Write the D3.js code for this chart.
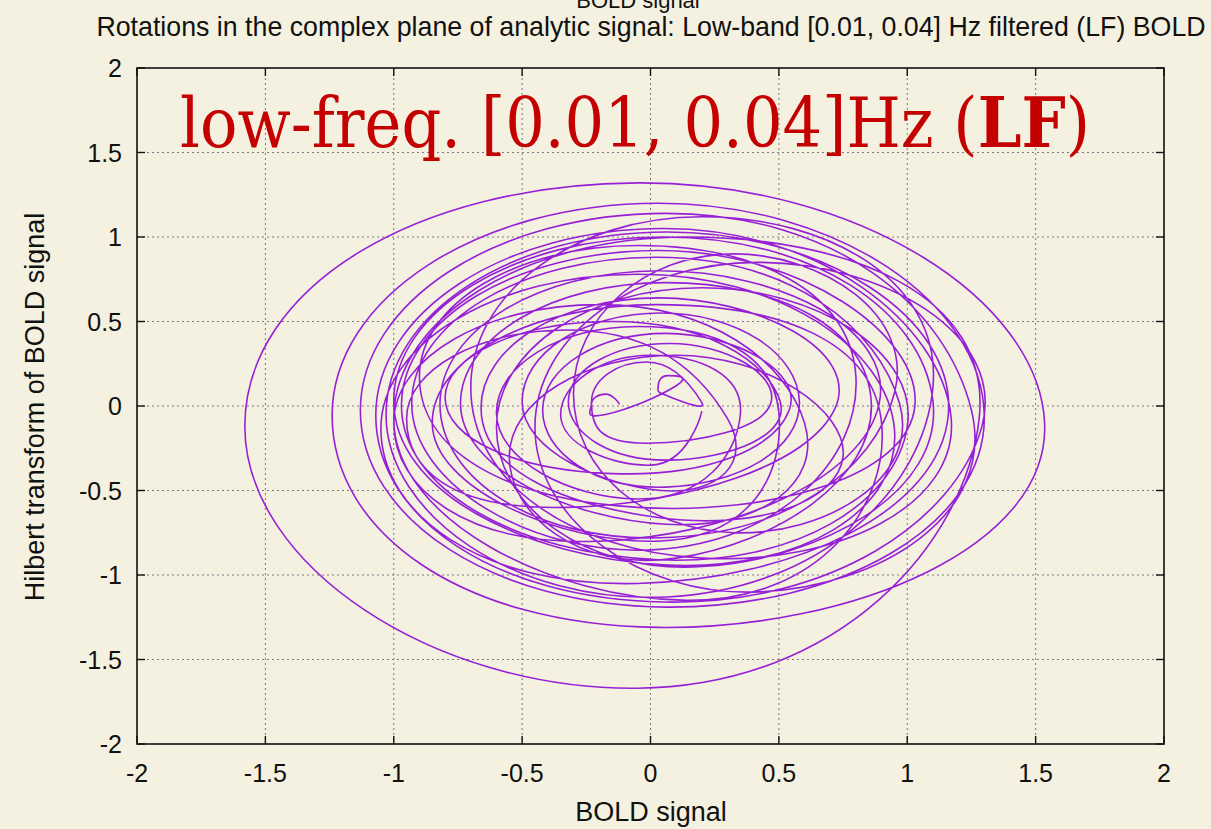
<!DOCTYPE html>
<html>
<head>
<meta charset="utf-8">
<script src="https://cdn.jsdelivr.net/npm/d3@7"></script>
<style>
  html, body { margin: 0; padding: 0; background: #f5f1e0; }
  svg { display: block; }
</style>
</head>
<body>
<svg id="chart" width="1211" height="829"></svg>
<script>
// ---- data ----
const xTicks = [-2, -1.5, -1, -0.5, 0, 0.5, 1, 1.5, 2];
const yTicks = [-2, -1.5, -1, -0.5, 0, 0.5, 1, 1.5, 2];
const xTickLabels = ["-2", "-1.5", "-1", "-0.5", "0", "0.5", "1", "1.5", "2"];
const yTickLabels = ["-2", "-1.5", "-1", "-0.5", "0", "0.5", "1", "1.5", "2"];

// trajectory of the analytic signal: BOLD (real part) vs Hilbert transform (imag part)
const boldX = [
  -0.12, -0.175, -0.23, -0.175,
  0.10, 0.065, 0.03, 0.065,
  0.20, -0.015, -0.23, -0.015,
  0.47, 0.075, -0.32, 0.075,
  0.50, -0.15, -0.80, -0.15,
  0.54, 0.06, -0.42, 0.06,
  0.58, 0.04, -0.50, 0.04,
  0.30, -0.325, -0.95, -0.325,
  0.72, 0.03, -0.66, 0.03,
  0.75, 0.10, -0.55, 0.10,
  0.86, 0.06, -0.74, 0.06,
  0.60, -0.20, -1.00, -0.20,
  0.89, 0.035, -0.82, 0.035,
  0.95, 0.325, -0.30, 0.325,
  0.97, 0.02, -0.93, 0.02,
  0.80, -0.05, -0.90, -0.05,
  1.03, 0.03, -0.97, 0.03,
  1.00, 0.20, -0.60, 0.20,
  1.10, 0.05, -1.00, 0.05,
  0.95, -0.05, -1.05, -0.05,
  1.16, 0.065, -1.03, 0.065,
  1.10, 0.20, -0.70, 0.20,
  1.17, 0.05, -1.07, 0.05,
  1.29, 0.42, -0.45, 0.42,
  1.25, 0.06, -1.13, 0.06,
  1.30, 0.03, -1.24, 0.03,
  1.535, -0.05, -1.58, -0.05,
  1.28, 0.14, -1.00, 0.14,
  0.90, 0.025, -0.85, 0.025,
  0.50, -0.05, -0.60, -0.05,
  0.35, 0.00, -0.35, 0.00,
  0.20
];
const hilbertY = [
  0.01, 0.07, 0.01, -0.05,
  0.12, 0.18, 0.12, 0.06,
  0.02, 0.26, 0.02, -0.22,
  0.025, 0.37, 0.025, -0.32,
  0.05, 0.50, 0.05, -0.40,
  -0.025, 0.43, -0.025, -0.48,
  0.025, 0.55, 0.025, -0.50,
  -0.075, 0.45, -0.075, -0.60,
  -0.01, 0.64, -0.01, -0.66,
  -0.30, 0.30, -0.30, -0.90,
  0.015, 0.73, 0.015, -0.70,
  -0.10, 0.60, -0.10, -0.80,
  0.01, 0.80, 0.01, -0.78,
  0.075, 0.90, 0.075, -0.75,
  0.015, 0.88, 0.015, -0.85,
  0.175, 0.95, 0.175, -0.60,
  0.005, 0.92, 0.005, -0.91,
  -0.125, 0.70, -0.125, -0.95,
  0.03, 1.00, 0.03, -0.94,
  -0.135, 0.78, -0.135, -1.05,
  -0.05, 1.03, -0.05, -1.13,
  0.11, 1.12, 0.11, -0.90,
  -0.055, 1.05, -0.055, -1.16,
  -0.125, 0.85, -0.125, -1.10,
  -0.025, 1.14, -0.025, -1.19,
  -0.055, 1.20, -0.055, -1.31,
  -0.10, 1.32, -0.12, -1.67,
  -0.075, 1.00, -0.075, -1.15,
  -0.10, 0.60, -0.10, -0.80,
  -0.04, 0.47, -0.04, -0.55,
  -0.05, 0.30, -0.05, -0.35,
  -0.03
];

const titleTop = "BOLD signal";
const titleText = "Rotations in the complex plane of analytic signal: Low-band [0.01, 0.04] Hz filtered (LF) BOLD";
const xLabel = "BOLD signal";
const yLabel = "Hilbert transform of BOLD signal";
const annotation = ["low-freq. [0.01, 0.04]Hz (", "LF", ")"];

// ---- drawing ----
const svg = d3.select("#chart");
const W = 1211, H = 829;
svg.append("rect").attr("width", W).attr("height", H).attr("fill", "#f5f1e0");

const pLeft = 137, pRight = 1164, pTop = 68, pBottom = 744;
const x = d3.scaleLinear().domain([-2, 2]).range([pLeft, pRight]);
const y = d3.scaleLinear().domain([-2, 2]).range([pBottom, pTop]);

const sans = "'Liberation Sans', Arial, Helvetica, sans-serif";

// grid
const grid = svg.append("g");
xTicks.slice(1, -1).forEach(v => {
  grid.append("line").attr("x1", x(v)).attr("x2", x(v)).attr("y1", pTop).attr("y2", pBottom)
    .attr("stroke", "#7d7884").attr("stroke-width", 1).attr("stroke-dasharray", "2,3");
});
yTicks.slice(1, -1).forEach(v => {
  grid.append("line").attr("y1", y(v)).attr("y2", y(v)).attr("x1", pLeft).attr("x2", pRight)
    .attr("stroke", "#7d7884").attr("stroke-width", 1).attr("stroke-dasharray", "2,3");
});

// annotation
const ann = svg.append("text")
  .attr("x", 0).attr("y", 0)
  .attr("font-family", "'DejaVu Serif', 'Liberation Serif', serif")
  .attr("font-size", 70)
  .attr("fill", "#c40000");
ann.append("tspan").text(annotation[0]);
ann.append("tspan").attr("font-weight", "bold").text(annotation[1]);
ann.append("tspan").text(annotation[2]);
{
  const w = ann.node().getComputedTextLength();
  ann.attr("transform", `translate(180,147) scale(${910 / w},1)`);
}

// trajectory
const pts = boldX.map((v, i) => [v, hilbertY[i]]);
const line = d3.line()
  .x(d => x(d[0])).y(d => y(d[1]))
  .curve(d3.curveCardinal.tension(-0.657));
svg.append("path")
  .attr("d", line(pts))
  .attr("fill", "none")
  .attr("stroke", "#9620d6")
  .attr("stroke-width", 1.6)
  .attr("stroke-linejoin", "round");

// frame
svg.append("rect").attr("x", pLeft).attr("y", pTop)
  .attr("width", pRight - pLeft).attr("height", pBottom - pTop)
  .attr("fill", "none").attr("stroke", "#111").attr("stroke-width", 1.6);

// ticks (inward, mirrored)
const tk = 8;
const ticks = svg.append("g").attr("stroke", "#111").attr("stroke-width", 1.4);
xTicks.forEach(v => {
  ticks.append("line").attr("x1", x(v)).attr("x2", x(v)).attr("y1", pBottom).attr("y2", pBottom - tk);
  ticks.append("line").attr("x1", x(v)).attr("x2", x(v)).attr("y1", pTop).attr("y2", pTop + tk);
});
yTicks.forEach(v => {
  ticks.append("line").attr("y1", y(v)).attr("y2", y(v)).attr("x1", pLeft).attr("x2", pLeft + tk);
  ticks.append("line").attr("y1", y(v)).attr("y2", y(v)).attr("x1", pRight).attr("x2", pRight - tk);
});

// tick labels
xTicks.forEach((v, i) => {
  svg.append("text").attr("x", x(v)).attr("y", 782)
    .attr("text-anchor", "middle").attr("font-family", sans).attr("font-size", 25)
    .attr("fill", "#111").text(xTickLabels[i]);
});
yTicks.forEach((v, i) => {
  svg.append("text").attr("x", 122).attr("y", y(v) + 9)
    .attr("text-anchor", "end").attr("font-family", sans).attr("font-size", 25)
    .attr("fill", "#111").text(yTickLabels[i]);
});

// titles
svg.append("text").attr("x", 638).attr("y", 8)
  .attr("text-anchor", "middle").attr("font-family", sans).attr("font-size", 22)
  .attr("fill", "#111").text(titleTop);
const t = svg.append("text").attr("x", 651).attr("y", 36)
  .attr("text-anchor", "middle").attr("font-family", sans).attr("font-size", 22)
  .attr("fill", "#111").text(titleText);
{
  const w = t.node().getComputedTextLength();
  t.attr("font-size", 22 * 1110 / w);
}
svg.append("text").attr("x", 651).attr("y", 821)
  .attr("text-anchor", "middle").attr("font-family", sans).attr("font-size", 27)
  .attr("fill", "#111").text(xLabel);
svg.append("text")
  .attr("transform", "translate(44,407) rotate(-90)")
  .attr("text-anchor", "middle").attr("font-family", sans).attr("font-size", 27)
  .attr("fill", "#111").text(yLabel);
</script>
</body>
</html>
